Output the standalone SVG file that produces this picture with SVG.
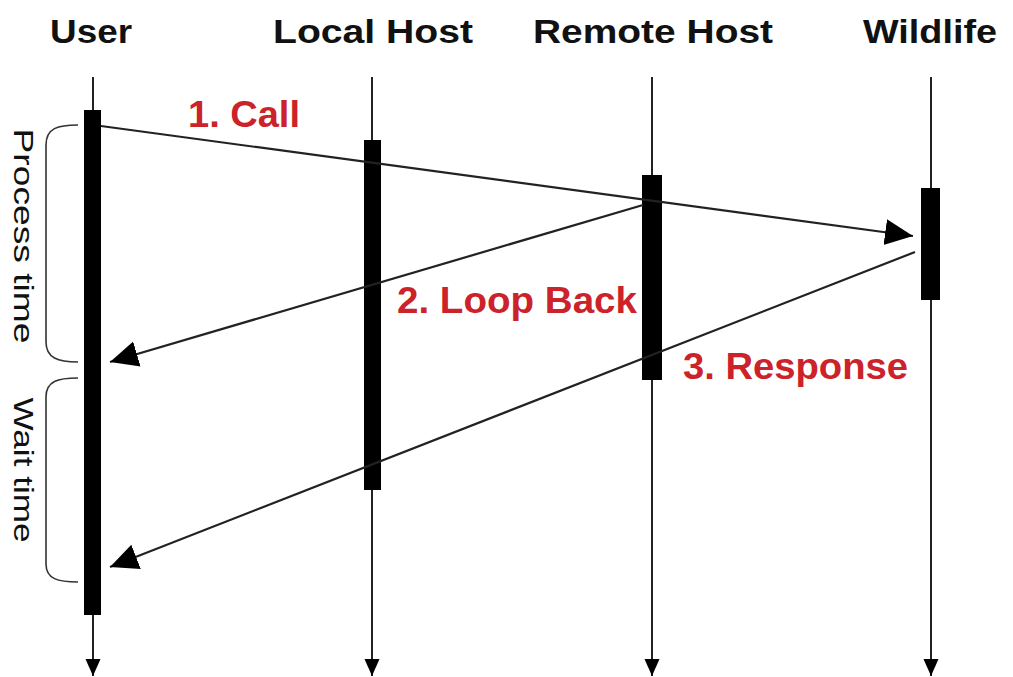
<svg xmlns="http://www.w3.org/2000/svg" width="1013" height="677" viewBox="0 0 1013 677">
<defs>
<style>
.hdr{font-family:"Liberation Sans",Arial,sans-serif;font-weight:bold;font-size:33px;fill:#111}
.lbl{font-family:"Liberation Sans",Arial,sans-serif;font-weight:bold;font-size:37px;fill:#cc2229}
.side{font-family:"Liberation Sans",Arial,sans-serif;font-size:27px;fill:#111}
.life{stroke:#222;stroke-width:2;fill:none}
.bar{fill:#000}
.msg{stroke:#222;stroke-width:2.2;fill:none}
.brace{stroke:#333;stroke-width:1.6;fill:none}
</style>
<marker id="big" markerUnits="userSpaceOnUse" markerWidth="30" markerHeight="28" refX="28" refY="13" orient="auto">
<path d="M0,0 L28,13 L0,26 Z" fill="#000"/>
</marker>
<marker id="small" markerUnits="userSpaceOnUse" markerWidth="18" markerHeight="16" refX="17" refY="7.5" orient="auto">
<path d="M0,0 L17,7.5 L0,15 Z" fill="#000"/>
</marker>
</defs>
<rect width="1013" height="677" fill="#fff"/>

<g id="user">
<text class="hdr" x="50" y="43" textLength="82" lengthAdjust="spacingAndGlyphs">User</text>
<line class="life" x1="93" y1="77" x2="93" y2="676" marker-end="url(#small)"/>
<rect class="bar" x="84" y="110" width="17" height="505"/>
</g>
<g id="local-host">
<text class="hdr" x="273" y="43" textLength="200" lengthAdjust="spacingAndGlyphs">Local Host</text>
<line class="life" x1="372" y1="77" x2="372" y2="676" marker-end="url(#small)"/>
<rect class="bar" x="364" y="140" width="17" height="350"/>
</g>
<g id="remote-host">
<text class="hdr" x="533" y="43" textLength="240" lengthAdjust="spacingAndGlyphs">Remote Host</text>
<line class="life" x1="652" y1="77" x2="652" y2="676" marker-end="url(#small)"/>
<rect class="bar" x="642" y="175" width="20" height="205"/>
</g>
<g id="wildlife">
<text class="hdr" x="863" y="43" textLength="134" lengthAdjust="spacingAndGlyphs">Wildlife</text>
<line class="life" x1="931" y1="77" x2="931" y2="676" marker-end="url(#small)"/>
<rect class="bar" x="921" y="188" width="19" height="112"/>
</g>

<g id="connectors">
<line class="msg" x1="101" y1="126" x2="913" y2="236" marker-end="url(#big)"/>
<line class="msg" x1="643" y1="205" x2="110" y2="362" marker-end="url(#big)"/>
<line class="msg" x1="915" y1="252" x2="110" y2="567" marker-end="url(#big)"/>
</g>

<g id="labels">
<text class="lbl" x="188" y="127" textLength="112" lengthAdjust="spacingAndGlyphs">1. Call</text>
<text class="lbl" x="397" y="313" textLength="240" lengthAdjust="spacingAndGlyphs">2. Loop Back</text>
<text class="lbl" x="683" y="379" textLength="225" lengthAdjust="spacingAndGlyphs">3. Response</text>
</g>

<g id="process-time">
<path class="brace" d="M78,125 C58,125 46,128 46,145 L46,342 C46,358 58,362 78,362"/>
<text class="side" transform="translate(14,236) rotate(90)" text-anchor="middle" textLength="215" lengthAdjust="spacingAndGlyphs">Process time</text>
</g>
<g id="wait-time">
<path class="brace" d="M78,378 C58,378 46,381 46,397 L46,564 C46,579 58,582 78,582"/>
<text class="side" transform="translate(14,470) rotate(90)" text-anchor="middle" textLength="145" lengthAdjust="spacingAndGlyphs">Wait time</text>
</g>
</svg>
